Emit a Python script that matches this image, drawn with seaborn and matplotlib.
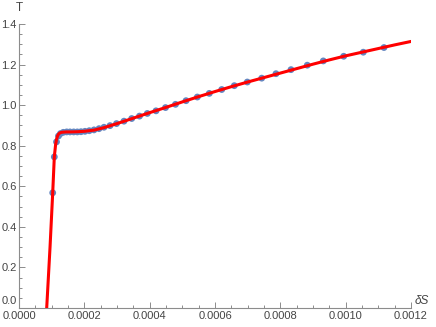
import numpy as np
import pandas as pd
import matplotlib
matplotlib.use("Agg")
import matplotlib.pyplot as plt
import matplotlib.transforms as mtransforms
import seaborn as sns
from matplotlib.ticker import MultipleLocator, FormatStrFormatter, FuncFormatter

# data points (delta S, T)
ds_pts = [0.0001032, 0.0001081, 0.0001148, 0.0001209, 0.0001270, 0.0001356,
          0.0001460, 0.0001561, 0.0001674, 0.0001785, 0.0001898, 0.0002020,
          0.0002152, 0.0002296, 0.0002449, 0.0002602, 0.0002786, 0.0002985,
          0.0003214, 0.0003450, 0.0003689, 0.0003928, 0.0004194, 0.0004485,
          0.0004791, 0.0005113, 0.0005459, 0.0005826, 0.0006206, 0.0006591,
          0.0006989, 0.0007430, 0.0007867, 0.0008327, 0.0008825, 0.0009315,
          0.0009940, 0.0010540, 0.0011173]
t_pts = [0.568, 0.745, 0.819, 0.848, 0.860, 0.866,
         0.868, 0.868, 0.868, 0.868, 0.869, 0.871,
         0.874, 0.878, 0.884, 0.891, 0.899, 0.909,
         0.921, 0.934, 0.946, 0.959, 0.972, 0.988,
         1.004, 1.022, 1.040, 1.058, 1.077, 1.096,
         1.114, 1.133, 1.155, 1.175, 1.197, 1.218,
         1.241, 1.261, 1.284]

# fitted curve
ds_fit = [0.0000848, 0.0000950, 0.0001032, 0.0001081, 0.0001120, 0.0001150,
          0.0001180, 0.0001210, 0.0001250, 0.0001300, 0.0001360, 0.0001450,
          0.0001600, 0.0001800, 0.0002000, 0.0002300, 0.0002600, 0.0003000,
          0.0003500, 0.0004000, 0.0004500, 0.0005000, 0.0005500, 0.0006000,
          0.0006500, 0.0007000, 0.0007500, 0.0008000, 0.0008500, 0.0009000,
          0.0009500, 0.0010000, 0.0010500, 0.0011000, 0.0011500, 0.0012000]
t_fit = [0.000, 0.300, 0.568, 0.745, 0.805, 0.832,
         0.848, 0.857, 0.863, 0.866, 0.867, 0.868,
         0.868, 0.869, 0.871, 0.877, 0.889, 0.909,
         0.936, 0.963, 0.989, 1.016, 1.042, 1.067,
         1.091, 1.114, 1.136, 1.158, 1.180, 1.202,
         1.223, 1.243, 1.261, 1.279, 1.297, 1.314]

sns.set_style("white")
plt.rcParams['font.family'] = ['Liberation Sans', 'DejaVu Sans']

fig = plt.figure(figsize=(4.36, 3.27), dpi=100)
ax = fig.add_axes([19/436, 1-308/327, 392/436, 284/327])

# dots first, fitted line on top
sns.scatterplot(x=ds_pts, y=t_pts, ax=ax, color="#6486C0", s=24,
                edgecolor="none", zorder=2)
sns.lineplot(x=ds_fit, y=t_fit, ax=ax, color="#FF0000", lw=2.2, sort=False,
             zorder=3)

ax.set_xlim(0, 0.0012)
ax.set_ylim(0, 1.4)
for s in ["top", "right"]:
    ax.spines[s].set_visible(False)
for s in ["left", "bottom"]:
    ax.spines[s].set_color("#8c8c8c")
    ax.spines[s].set_linewidth(0.8)

ax.xaxis.set_major_locator(MultipleLocator(0.0002))
ax.xaxis.set_minor_locator(MultipleLocator(0.00005))
ax.yaxis.set_major_locator(MultipleLocator(0.2))
ax.yaxis.set_minor_locator(MultipleLocator(0.05))
ax.xaxis.set_major_formatter(FormatStrFormatter("%.4f"))
# the "0.0" label is drawn by hand a bit higher so it clears "0.0000"
ax.yaxis.set_major_formatter(FuncFormatter(lambda v, p: "" if abs(v) < 1e-9 else "%.1f" % v))
ax.tick_params(which="both", direction="in", color="#8c8c8c", labelcolor="#444444",
               labelsize=8, width=0.7)
ax.tick_params(which="major", length=4)
ax.tick_params(which="minor", length=2.2)
ax.tick_params(axis="x", which="both", bottom=True, pad=2.5)
ax.tick_params(axis="y", which="both", left=True, pad=1.5)

lift = mtransforms.offset_copy(ax.transAxes, fig=fig, x=-1.5, y=1.5, units="points")
ax.text(0, 0, "0.0", transform=lift, ha="right", va="bottom", fontsize=8,
        color="#444444")

fig.text(19/436, 1-8/327, "T", ha="center", va="center", fontsize=8.5, color="#444444")
fig.text(422/436, 1-301/327, "δS", ha="center", va="center", fontsize=8.5,
         color="#444444", style="italic")

fig.savefig("out.png", dpi=100)
